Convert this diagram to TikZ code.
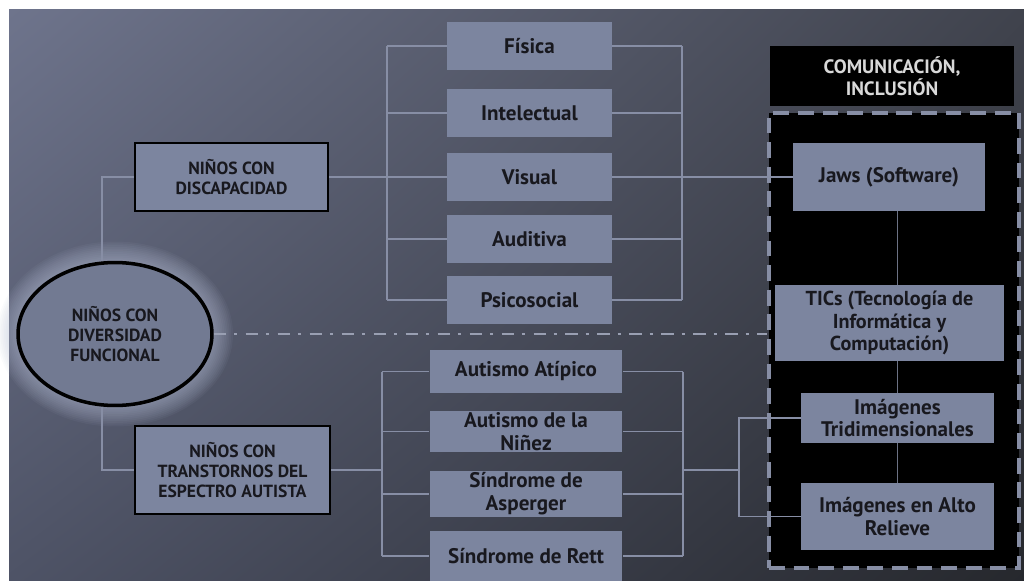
\documentclass[tikz,border=0pt]{standalone}
\usepackage{fontspec}
\setmainfont{PT Sans}
\usepackage{tikz}
\usetikzlibrary{positioning}
\usetikzlibrary{shapes.geometric}
\usetikzlibrary{shadings}
\usepackage{xcolor}

\definecolor{bgtl}{HTML}{6E748C}
\definecolor{bgtr}{HTML}{40434D}
\definecolor{bgbl}{HTML}{4E5366}
\definecolor{bgbr}{HTML}{26282D}
\definecolor{boxfill}{HTML}{7C859F}
\definecolor{linkgray}{HTML}{878EA5}
\definecolor{txtdark}{HTML}{18181E}
\definecolor{glowc}{HTML}{B4BCD4}

\tikzset{
    item/.style={fill=boxfill, text=txtdark, align=center, inner sep=0pt,
        font=\bfseries\fontsize{12}{13}\selectfont,
        minimum width=3.3cm, minimum height=0.98cm},
    group/.style={item, draw=black, line width=1.5pt,
        font=\bfseries\fontsize{10}{11.5}\selectfont},
    link/.style={draw=linkgray, line width=1pt},
}

\begin{document}
\begin{tikzpicture}[x=0.02cm, y=-0.02cm]
    % 1. Page and shaded background
    \useasboundingbox (0,0) rectangle (1024,581);
    \fill[white] (0,0) rectangle (1024,581);
    \shade[upper left=bgtl, upper right=bgtr, lower left=bgbl, lower right=bgbr]
        (9,10) rectangle (1024,581);

    % 2. Glow and the central ellipse
    \foreach \r in {1,...,12} {
        \fill[glowc, opacity=0.06] (115,334) ellipse [x radius={1.94cm+\r*0.035cm}, y radius={1.43cm+\r*0.035cm}];
    }
    \node[ellipse, draw=black, line width=2pt, fill=boxfill!92!black, text=txtdark, align=center,
        minimum width=3.88cm, minimum height=2.86cm,
        font=\bfseries\fontsize{10}{11.5}\selectfont] (div) at (115,334)
        {NIÑOS CON\\DIVERSIDAD\\FUNCIONAL};

    % 3. The two groups
    \node[group, minimum width=3.86cm, minimum height=1.36cm] (disc) at (231.5,177) {NIÑOS CON\\DISCAPACIDAD};
    \node[group, minimum width=3.9cm, minimum height=1.76cm] (tea) at (232.5,470) {NIÑOS CON\\TRANSTORNOS DEL\\ESPECTRO AUTISTA};

    % 4. Kinds of disability
    \node[item] (fis) at (529.5,46) {Física};
    \node[item] (int) at (529.5,113) {Intelectual};
    \node[item] (vis) at (529.5,177) {Visual};
    \node[item] (aud) at (529.5,239) {Auditiva};
    \node[item] (psi) at (529.5,300) {Psicosocial};

    % 5. Kinds of autism
    \node[item, minimum width=3.86cm, minimum height=0.86cm] (ati) at (526,371.5) {Autismo Atípico};
    \node[item, minimum width=3.86cm, minimum height=0.82cm] (nin) at (526,431.5) {Autismo de la\\Niñez};
    \node[item, minimum width=3.86cm, minimum height=0.92cm] (asp) at (526,494) {Síndrome de\\Asperger};
    \node[item, minimum width=3.86cm, minimum height=1.0cm] (ret) at (526,556) {Síndrome de Rett};

    % 6. Right panel
    \node[fill=black, text=white!85!black, align=center, minimum width=4.88cm, minimum height=1.2cm,
        font=\bfseries\fontsize{11}{12.5}\selectfont] (com) at (892,76) {COMUNICACIÓN,\\INCLUSIÓN};
    \node[fill=black, draw=linkgray, dash pattern=on 9pt off 5pt, line width=1.8pt,
        minimum width=5cm, minimum height=9.1cm] (panel) at (894,340.5) {};
    \node[item, minimum width=3.84cm, minimum height=1.36cm] (jaws) at (889,177) {Jaws (Software)};
    \node[item, minimum width=4.58cm, minimum height=1.52cm,
        font=\bfseries\fontsize{11.5}{13}\selectfont] (tic) at (889.5,323) {TICs (Tecnología de\\Informática y\\Computación)};
    \node[item, minimum width=3.86cm, minimum height=1.0cm] (tri) at (897.5,418) {Imágenes\\Tridimensionales};
    \node[item, minimum width=3.86cm, minimum height=1.34cm] (alto) at (897.5,516.5) {Imágenes en Alto\\Relieve};

    % 7. Connectors from the ellipse
    \draw[link] (disc.west) -| (div.100);
    \draw[link] (tea.west) -| (div.260);
    \draw[link, draw=linkgray!85!white, line width=1.4pt, dash pattern=on 7pt off 4.5pt on 1.7pt off 5pt]
        (div.east) -- (panel.west |- div.east);

    % 8. Disability branch
    \coordinate (ltrunk) at (387,0);
    \coordinate (rtrunk) at (682,0);
    \draw[link] (disc.east) -- (disc.east -| ltrunk);
    \draw[link] (ltrunk |- fis) -- (ltrunk |- psi);
    \draw[link] (rtrunk |- fis) -- (rtrunk |- psi);
    \foreach \n in {fis,int,vis,aud,psi} {
        \draw[link] (ltrunk |- \n) -- (\n.west);
    }
    \foreach \n in {fis,int,aud,psi} {
        \draw[link] (\n.east) -- (rtrunk |- \n);
    }
    \draw[link] (vis.east) -- (jaws.west);

    % 9. Autism branch
    \coordinate (atrunkl) at (382,0);
    \coordinate (atrunkr) at (683,0);
    \coordinate (itrunk) at (739,0);
    \draw[link] (tea.east) -- (tea.east -| atrunkl);
    \draw[link] (atrunkl |- ati) -- (atrunkl |- ret);
    \draw[link] (atrunkr |- ati) -- (atrunkr |- ret);
    \foreach \n in {ati,nin,asp,ret} {
        \draw[link] (atrunkl |- \n) -- (\n.west);
        \draw[link] (\n.east) -- (atrunkr |- \n);
    }
    \draw[link] (atrunkr |- tea.east) -- (itrunk |- tea.east);
    \draw[link] (tri.west) -- (itrunk |- tri) -- (itrunk |- alto) -- (alto.west);

    % 10. Inside the panel
    \draw[link, draw=linkgray!80!black] (tri |- jaws.south) -- (tri |- tic.north);
    \draw[link, draw=linkgray!80!black] (tri |- tic.south) -- (tri.north);
    \draw[link, draw=linkgray!80!black] (tri.south) -- (alto.north);
\end{tikzpicture}
\end{document}
